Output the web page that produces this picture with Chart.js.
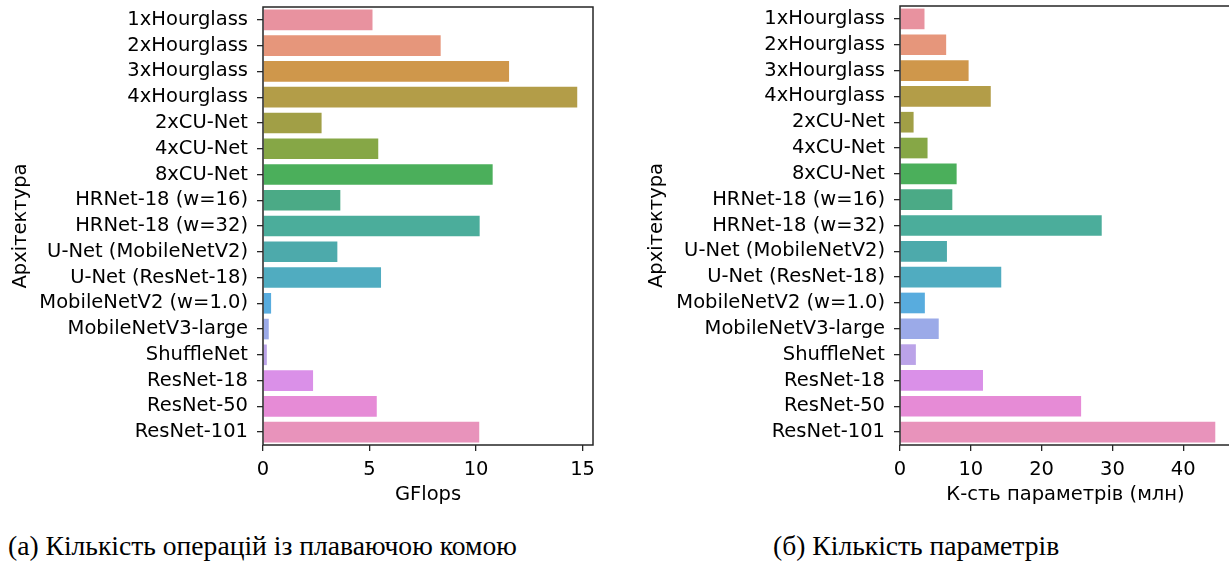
<!DOCTYPE html>
<html>
<head>
<meta charset="utf-8">
<script src="https://cdn.jsdelivr.net/npm/chart.js@4/dist/chart.umd.min.js"></script>
<style>
  html, body { margin: 0; padding: 0; background: #fff; overflow: hidden; width: 1229px; height: 574px; }
  .panel { position: absolute; top: 0; height: 515px; }
  #p1 { left: 0; width: 600px; }
  #p2 { left: 620px; width: 620px; }
  .cap { position: absolute; top: 531px; font-family: "Liberation Serif", "Times New Roman", serif;
         font-size: 27.6px; color: #000; white-space: nowrap; line-height: 30px; }
</style>
</head>
<body>
<div class="panel" id="p1"><canvas id="c1"></canvas></div>
<div class="panel" id="p2"><canvas id="c2"></canvas></div>
<div class="cap" style="left:8px">(а) Кількість операцій із плаваючою комою</div>
<div class="cap" style="left:773px">(б) Кількість параметрів</div>
<script>
// Network architectures compared in both panels
const architectures = [
  '1xHourglass', '2xHourglass', '3xHourglass', '4xHourglass',
  '2xCU-Net', '4xCU-Net', '8xCU-Net',
  'HRNet-18 (w=16)', 'HRNet-18 (w=32)',
  'U-Net (MobileNetV2)', 'U-Net (ResNet-18)',
  'MobileNetV2 (w=1.0)', 'MobileNetV3-large', 'ShuffleNet',
  'ResNet-18', 'ResNet-50', 'ResNet-101'
];

// Floating point operations, GFlops
const gflops = [5.14, 8.34, 11.55, 14.75, 2.75, 5.41, 10.78, 3.63, 10.17,
                3.49, 5.54, 0.38, 0.27, 0.18, 2.35, 5.34, 10.15];

// Number of parameters, millions
const paramsMillions = [3.46, 6.52, 9.69, 12.82, 1.92, 3.89, 8.0, 7.39, 28.49,
                        6.63, 14.3, 3.51, 5.47, 2.24, 11.72, 25.58, 44.53];

// Axis ticks and limits
const gflopsTicks = [0, 5, 10, 15];
const paramTicks = [0, 10, 20, 30, 40];
const gflopsMax = 15.49;
const paramMax = 46.75;

// One colour per architecture
const barColors = [
  '#e8929f', '#e6967b', '#cf974b', '#b39d48', '#a19f46', '#86a746',
  '#4baf5b', '#4baa86', '#4bad9b', '#4daaab', '#50acc0', '#58acde',
  '#9baae8', '#bba3e8', '#da90e8', '#e68bd6', '#e893bb'
];

const FONT = 'DejaVu Sans';
const FONT_SIZE = 19.5;
const INK = '#262626';

// Draws the full box around the plotting area
const frame = {
  id: 'frame',
  afterDraw(chart) {
    const a = chart.chartArea, ctx = chart.ctx;
    ctx.save();
    ctx.strokeStyle = INK;
    ctx.lineWidth = 1.5;
    ctx.strokeRect(a.left, a.top, a.right - a.left, a.bottom - a.top);
    ctx.restore();
  }
};

function makeChart(id, values, ticks, xMax, xTitle, yWidth, yTitlePad, padTop, padRight) {
  return new Chart(document.getElementById(id), {
    type: 'bar',
    data: {
      labels: architectures,
      datasets: [{
        data: values,
        backgroundColor: barColors,
        borderWidth: 0,
        categoryPercentage: 0.8,
        barPercentage: 1.0
      }]
    },
    options: {
      indexAxis: 'y',
      responsive: true,
      maintainAspectRatio: false,
      animation: false,
      devicePixelRatio: 1,
      layout: { padding: { top: padTop, right: padRight, left: 0, bottom: 0 } },
      plugins: { legend: { display: false }, tooltip: { enabled: false } },
      scales: {
        x: {
          type: 'linear',
          min: 0,
          max: xMax,
          afterBuildTicks: s => { s.ticks = ticks.map(v => ({ value: v })); },
          afterFit: s => { s.height = 70; s.paddingLeft = 0; s.paddingRight = 0; },
          grid: { display: true, drawOnChartArea: false, drawTicks: true, tickLength: 6, color: INK, lineWidth: 1.3 },
          border: { display: false },
          ticks: { font: { family: FONT, size: FONT_SIZE }, color: '#000', padding: 7, maxRotation: 0 },
          title: { display: true, text: xTitle, font: { family: FONT, size: FONT_SIZE }, color: '#000',
                   padding: { top: 0, bottom: 8 } }
        },
        y: {
          afterFit: s => { s.width = yWidth; s.paddingTop = 0; s.paddingBottom = 0; },
          grid: { display: true, drawOnChartArea: false, drawTicks: true, tickLength: 6, color: INK, lineWidth: 1.3, offset: false },
          border: { display: false },
          ticks: { font: { family: FONT, size: FONT_SIZE }, color: '#000', padding: 9, autoSkip: false },
          title: { display: true, text: 'Архітектура', font: { family: FONT, size: FONT_SIZE }, color: '#000',
                   padding: { top: yTitlePad, bottom: 0 } }
        }
      }
    },
    plugins: [frame]
  });
}

makeChart('c1', gflops, gflopsTicks, gflopsMax, 'GFlops', 263, 9, 7, 7);
makeChart('c2', paramsMillions, paramTicks, paramMax, 'К-сть параметрів (млн)', 280, 25, 6, 9);
</script>
</body>
</html>
